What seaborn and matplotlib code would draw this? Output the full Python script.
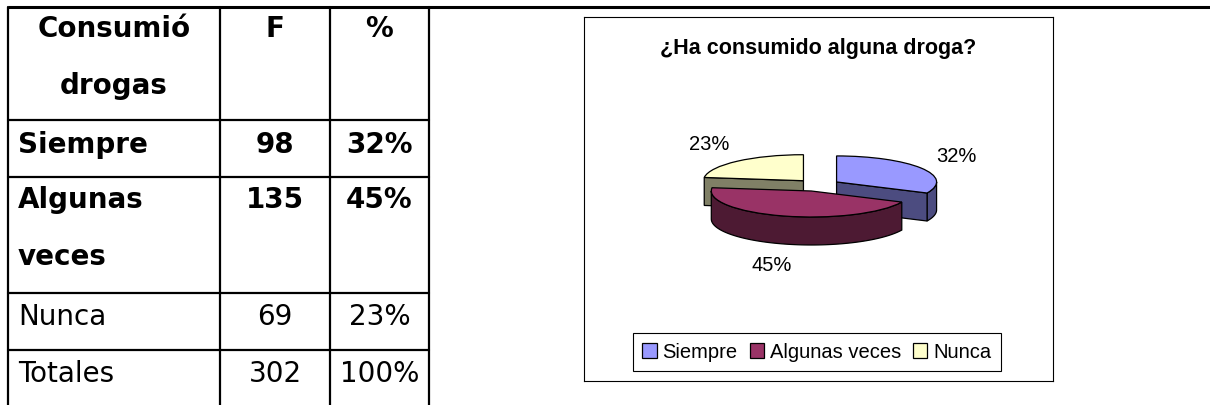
import numpy as np
import seaborn as sns
import matplotlib.pyplot as plt
from matplotlib.patches import Polygon

# data
categories = ['Siempre', 'Algunas veces', 'Nunca']
freq = [98, 135, 69]
pct = [32, 45, 23]
total_freq = 302
total_pct = 100
table_header = ['Consumió\ndrogas', 'F', '%']
row_labels = ['Siempre', 'Algunas\nveces', 'Nunca', 'Totales']
row_bold = [True, True, False, False]

top_colors = ['#9999FF', '#993366', '#FFFFCC']
side_colors = ['#4C4C80', '#4D1A33', '#808066']

sns.set_theme(style='white')
plt.rcParams['font.family'] = ['DejaVu Sans']
plt.rcParams['text.color'] = 'black'

fig = plt.figure(figsize=(12.1, 4.05), dpi=100)
W, H = 1210, 405

# layout axes in pixel units (y down)
lay = fig.add_axes([0, 0, 1, 1])
lay.set_xlim(0, W)
lay.set_ylim(H, 0)
lay.axis('off')


def px_axes(x0, y0, x1, y1):
    return fig.add_axes([x0 / W, 1 - y1 / H, (x1 - x0) / W, (y1 - y0) / H])


# ---- table on the left ----
col_x = [8, 220, 330, 429]
row_y = [7, 120, 177, 293, 350]
lw = 1.6
lay.plot([8, W], [7, 7], color='black', lw=2.2, solid_capstyle='butt')
for x in col_x:
    lay.plot([x, x], [7, H], color='black', lw=lw)
for y in row_y[1:]:
    lay.plot([col_x[0], col_x[-1]], [y, y], color='black', lw=lw)

tfont = dict(family='DejaVu Sans', size=20, color='black', va='baseline')
line_gap = 57
col_c = [(col_x[i] + col_x[i + 1]) / 2 for i in range(3)]

for i, txt in enumerate(table_header):
    for j, part in enumerate(txt.split('\n')):
        lay.text(col_c[i], 37 + j * line_gap, part, ha='center',
                 weight='bold', **tfont)

cells = [(str(f), f'{p}%') for f, p in zip(freq, pct)]
cells.append((str(total_freq), f'{total_pct}%'))
baselines = [153, 208, 325, 382]
for lab, (fv, pv), b, bold in zip(row_labels, cells, baselines, row_bold):
    wt = 'bold' if bold else 'normal'
    for j, part in enumerate(lab.split('\n')):
        lay.text(18, b + j * line_gap, part, ha='left', weight=wt, **tfont)
    lay.text(col_c[1], b, fv, ha='center', weight=wt, **tfont)
    lay.text(col_c[2], b, pv, ha='center', weight=wt, **tfont)

# ---- chart box ----
box = px_axes(584, 17, 1053, 381)
box.set_xticks([])
box.set_yticks([])
box.set_facecolor('white')
for s in box.spines.values():
    s.set_color('black')
    s.set_linewidth(0.8)
box.text(0.5, 1 - (54 - 17) / 364, '¿Ha consumido alguna droga?',
         transform=box.transAxes, ha='center', va='baseline', color='black',
         family='Liberation Sans', weight='bold', size=15.5)

# ---- 3D exploded pie ----
rx_px, ry_px, depth_px = 100, 26, 28
pax = px_axes(668, 115, 968, 255)
a = (300 / 2) / rx_px
b = (140 / 2) / ry_px
depth = depth_px / ry_px

wedges, texts = pax.pie(pct, labels=[f'{p}%' for p in pct], colors=top_colors,
                        startangle=90, counterclock=False,
                        explode=[0.22, 0.24, 0.22], labeldistance=1.4,
                        wedgeprops=dict(edgecolor='black', linewidth=0.9),
                        textprops=dict(family='Liberation Sans', size=14.5,
                                       color='black'))
pax.set_aspect('auto')
pax.set_xlim(-a, a)
pax.set_ylim(-b, b)
pax.axis('off')


def side_faces(w, d, n=80):
    cx, cy = w.center
    r = w.r
    t1, t2 = w.theta1, w.theta2
    faces = []
    for k in range(-2, 3):
        lo, hi = max(t1, -180 + 360 * k), min(t2, 360 * k)
        if lo < hi:
            th = np.radians(np.linspace(lo, hi, n))
            xs = cx + r * np.cos(th)
            ys = cy + r * np.sin(th)
            faces.append(np.column_stack([np.r_[xs, xs[::-1]],
                                          np.r_[ys, ys[::-1] - d]]))
    for t, vis in ((t1, np.cos(np.radians(t1)) > 0.01),
                   (t2, np.cos(np.radians(t2)) < -0.01)):
        if vis:
            ex = cx + r * np.cos(np.radians(t))
            ey = cy + r * np.sin(np.radians(t))
            faces.append(np.array([[cx, cy], [ex, ey], [ex, ey - d], [cx, cy - d]]))
    return faces


mids = [np.radians((w.theta1 + w.theta2) / 2) for w in wedges]
order = np.argsort([-np.sin(m) for m in mids])  # back to front
for rank, i in enumerate(order):
    w = wedges[i]
    for f in side_faces(w, depth):
        pax.add_patch(Polygon(f, closed=True, facecolor=side_colors[i],
                              edgecolor='black', linewidth=0.9,
                              zorder=2 * rank + 1))
    w.set_zorder(2 * rank + 2)

# labels sit a bit further out vertically than horizontally (3D look)
for t, w, m in zip(texts, wedges, mids):
    cx, cy = w.center
    x = cx + 1.42 * np.cos(m)
    y = cy + 1.85 * np.sin(m)
    if np.sin(m) < 0:
        y -= depth
    t.set_position((x, y))
    t.set_ha('center')
    t.set_va('center')

leg = box.legend(wedges, categories, loc='center',
                 bbox_to_anchor=(817 / W, 1 - 352 / H), bbox_transform=fig.transFigure,
                 ncol=3, frameon=True, fancybox=False, framealpha=1,
                 edgecolor='black', handlelength=0.7, handleheight=0.7,
                 handletextpad=0.3, columnspacing=0.6, borderpad=0.45,
                 prop=dict(family='Liberation Sans', size=14.5))
leg.get_frame().set_linewidth(0.8)
for t in leg.get_texts():
    t.set_color('black')

fig.savefig('out.png', dpi=100)
